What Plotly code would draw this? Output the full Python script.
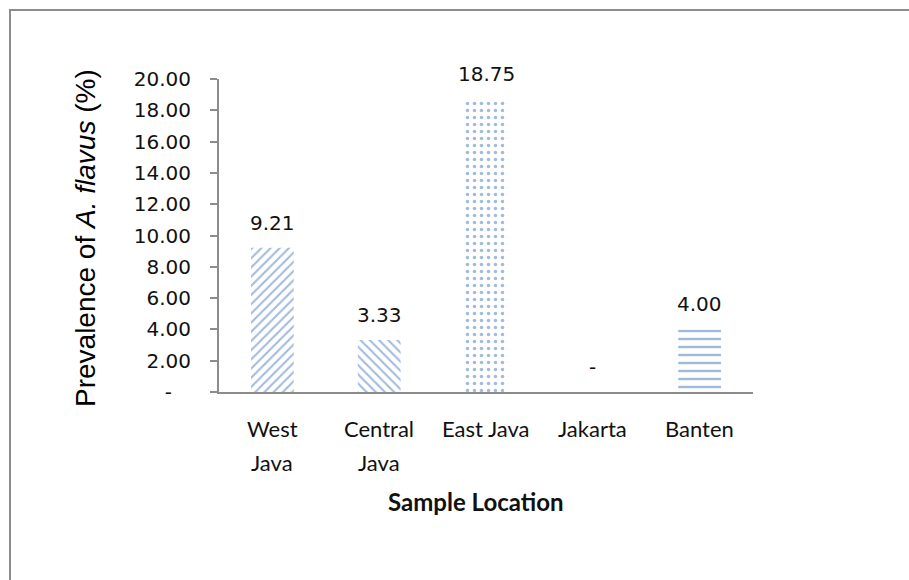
import plotly.graph_objects as go

# Prevalence of A. flavus by sampling province
locations = ["West<br>Java", "Central<br>Java", "East Java", "Jakarta", "Banten"]
prevalence = [9.21, 3.33, 18.75, 0.0, 4.00]
hatches = ["/", "\\", ".", "", "-"]

y_ticks = [0, 2, 4, 6, 8, 10, 12, 14, 16, 18, 20]
y_tick_text = ["-\u00a0\u00a0\u00a0"] + [f"{v:.2f}" for v in y_ticks[1:]]

W, H = 909, 580
L, R, T, B = 219, 753, 79, 392
BLUE = "#4276BD"
TEXT = "#111111"


def px_x(p):
    return (p - L) / (R - L)


def px_y(p):
    return (B - p) / (B - T)


pattern_sizes = {"/": 6.5, "\\": 6.5, ".": 7, "-": 8, "": 8}
pattern_solid = {"/": 0.32, "\\": 0.32, ".": 0.2, "-": 0.3, "": 0.2}

fig = go.Figure()
fig.add_trace(go.Bar(
    x=locations,
    y=prevalence,
    width=0.4,
    marker=dict(
        color="white",
        line=dict(width=0),
        pattern=dict(
            shape=hatches,
            fgcolor=BLUE,
            bgcolor="white",
            fillmode="overlay",
            size=[pattern_sizes[h] for h in hatches],
            solidity=[pattern_solid[h] for h in hatches],
        ),
    ),
    hoverinfo="skip",
    showlegend=False,
))

# value labels above each bar
for loc, val in zip(locations, prevalence):
    fig.add_annotation(
        x=loc, y=val, xref="x", yref="y",
        text=f"{val:.2f}" if val else "-",
        showarrow=False, yanchor="middle", yshift=25,
        font=dict(family="DejaVu Sans", size=20, color=TEXT),
    )

# category labels under the axis, one annotation per wrapped line
for loc in locations:
    for i, line in enumerate(loc.split("<br>")):
        fig.add_annotation(
            x=loc, y=0, xref="x", yref="y",
            text=line, showarrow=False, yanchor="middle",
            yshift=-36 - 34 * i,
            font=dict(family="Lato", size=22, color=TEXT),
        )

# axis titles
fig.add_annotation(
    x=px_x(85), y=px_y(238), xref="paper", yref="paper",
    text="Prevalence of <i>A. flavus</i> (%)", textangle=-90,
    showarrow=False, xanchor="center", yanchor="middle",
    font=dict(family="Liberation Sans", size=28, color="#000000"),
)
fig.add_annotation(
    x=px_x(476), y=px_y(501), xref="paper", yref="paper",
    text="<b>Sample Location</b>",
    showarrow=False, xanchor="center", yanchor="middle",
    font=dict(family="Lato", size=24, color=TEXT),
)

# chart frame
fig.add_shape(
    type="rect", xref="paper", yref="paper",
    x0=px_x(10), x1=px_x(920), y0=px_y(600), y1=px_y(10),
    line=dict(color="#8c8c8c", width=2), fillcolor="rgba(0,0,0,0)",
    layer="below",
)

fig.update_layout(
    width=W, height=H,
    margin=dict(l=L, r=W - R, t=T, b=H - B, pad=0),
    paper_bgcolor="white", plot_bgcolor="white",
    bargap=0.6,
    xaxis=dict(
        range=[-0.5, 4.5],
        showline=True, linecolor="#8c8c8c", linewidth=2,
        ticks="", showgrid=False, zeroline=False,
        showticklabels=False,
    ),
    yaxis=dict(
        range=[0, 20],
        tickvals=y_ticks, ticktext=y_tick_text,
        showline=True, linecolor="#8c8c8c", linewidth=2,
        ticks="outside", ticklen=7, tickcolor="#8c8c8c", tickwidth=2,
        showgrid=False, zeroline=False,
        tickfont=dict(family="DejaVu Sans", size=20, color=TEXT),
        ticklabelstandoff=15,
    ),
)

fig.write_html("out.html")
